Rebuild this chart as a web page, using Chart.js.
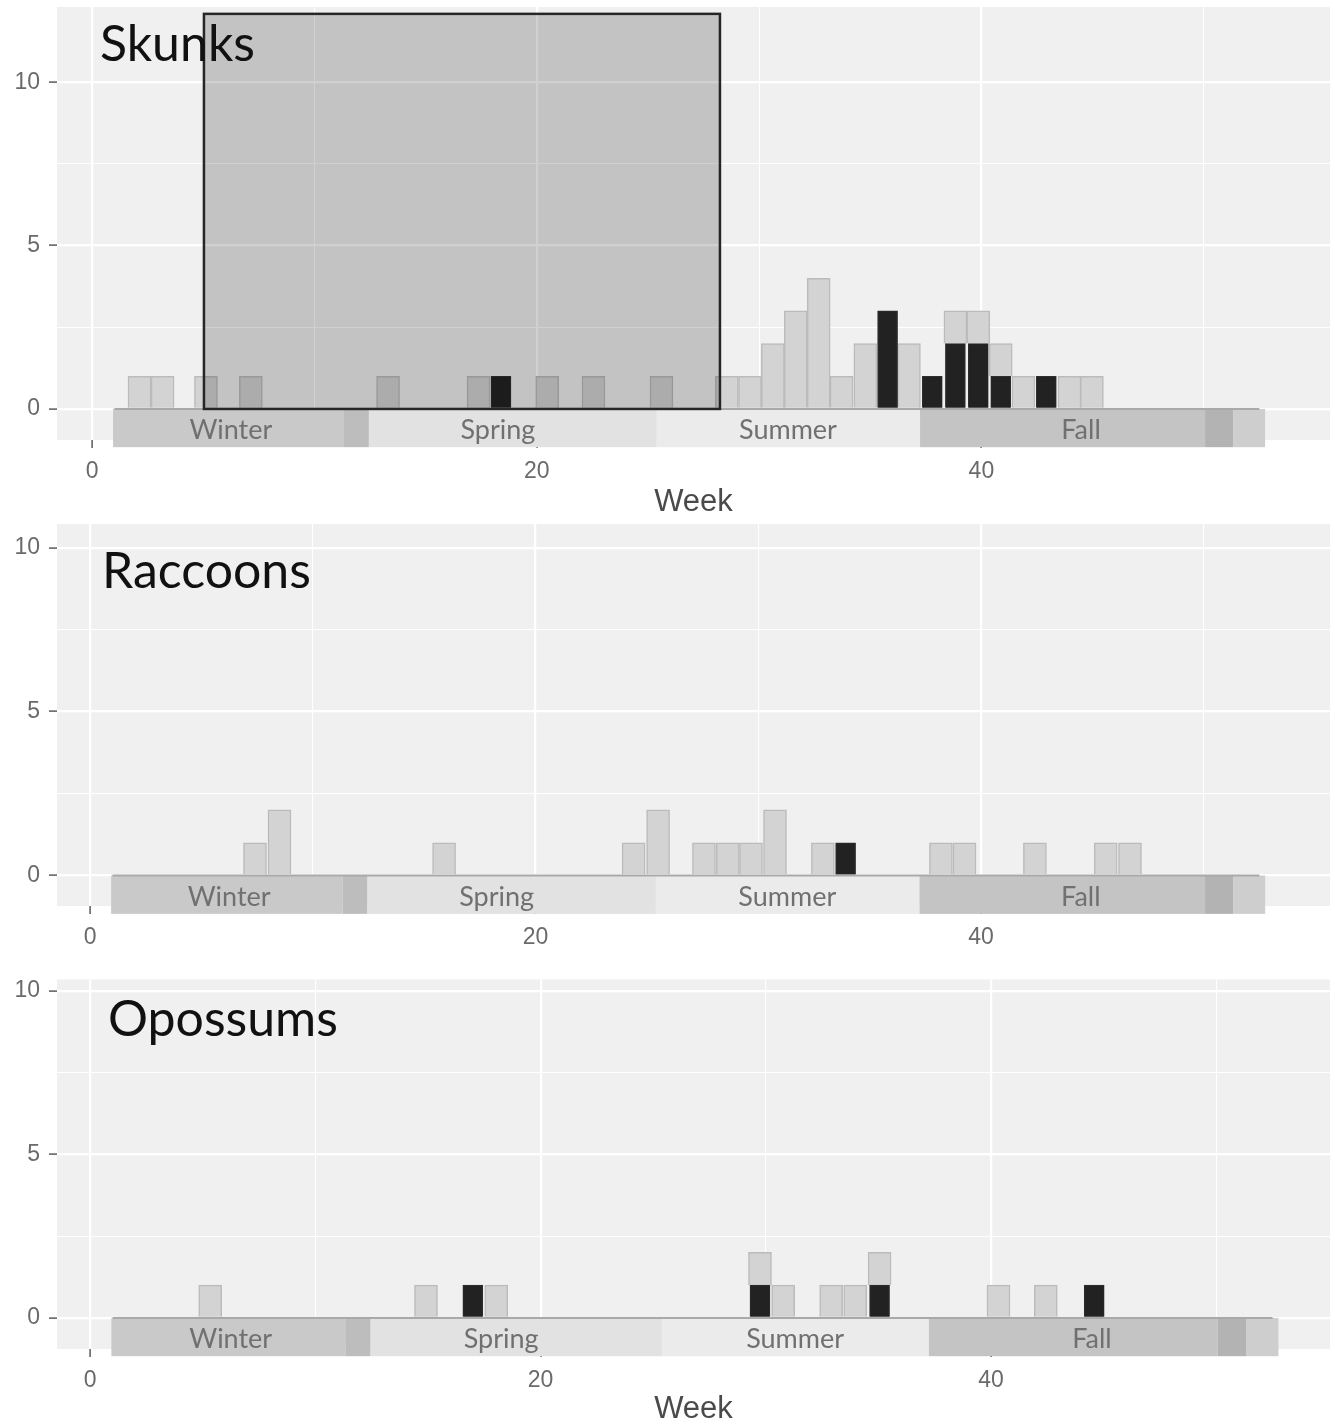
<!DOCTYPE html>
<html>
<head>
<meta charset="utf-8">
<script src="https://cdn.jsdelivr.net/npm/chart.js@4.4.1/dist/chart.umd.min.js"></script>
<style>
  html, body { margin: 0; padding: 0; background: #ffffff; }
  #wrap { position: relative; width: 1335px; height: 1427px; overflow: hidden; background: #ffffff; }
  #wrap canvas { position: absolute; left: 0; }
</style>
</head>
<body>
<div id="wrap">
  <canvas id="c1" width="1335" height="520" style="top:0px;width:1335px;height:520px"></canvas>
  <canvas id="c2" width="1335" height="455" style="top:520px;width:1335px;height:455px"></canvas>
  <canvas id="c3" width="1335" height="452" style="top:975px;width:1335px;height:452px"></canvas>
</div>
<script>
// ---------------- DATA ----------------
// Histogram bin centres (in weeks) and counts: grey = negative, black = positive
const skunkWeeks    = [2.13, 3.17, 5.12, 7.14, 13.31, 17.38, 18.39, 20.47, 22.55, 25.61,
                       28.55, 29.59, 30.62, 31.65, 32.68, 33.71, 34.78, 35.78, 36.74, 37.79,
                       38.83, 39.86, 40.87, 41.89, 42.92, 43.96, 44.97];
const skunkNegative = [1, 1, 1, 1, 1, 1, 0, 1, 1, 1,
                       1, 1, 2, 3, 4, 1, 2, 0, 2, 0,
                       1, 1, 1, 1, 0, 1, 1];
const skunkPositive = [0, 0, 0, 0, 0, 0, 1, 0, 0, 0,
                       0, 0, 0, 0, 0, 0, 0, 3, 0, 1,
                       2, 2, 1, 0, 1, 0, 0];

const raccoonWeeks    = [7.40, 8.50, 15.89, 24.40, 25.50, 27.56, 28.63, 29.67, 30.75, 32.90,
                         33.92, 38.20, 39.26, 42.42, 45.60, 46.69];
const raccoonNegative = [1, 2, 1, 1, 2, 1, 1, 1, 2, 1,
                         0, 1, 1, 1, 1, 1];
const raccoonPositive = [0, 0, 0, 0, 0, 0, 0, 0, 0, 0,
                         1, 0, 0, 0, 0, 0];

const opossumWeeks    = [5.33, 14.91, 16.99, 18.03, 29.74, 30.77, 32.90, 33.97, 35.05, 40.33, 42.43, 44.58];
const opossumNegative = [1, 1, 0, 1, 1, 1, 1, 1, 1, 1, 1, 0];
const opossumPositive = [0, 0, 1, 0, 1, 0, 0, 0, 1, 0, 0, 1];

const panelTitles = ['Skunks', 'Raccoons', 'Opossums'];

// Skunk highlighted window (weeks, counts)
const skunkBoxWeeks = [5.03, 28.24];
const skunkBoxCount = [0, 12.09];

// Season bands (weeks)
const seasonNames     = ['Winter', 'Spring', 'Summer', 'Fall'];
const seasonLabelWeek = [6.24, 18.25, 31.3, 44.48];
const bandFrom        = [0.94, 11.33, 12.45, 25.4, 37.24, 50.06, 51.32];
const bandTo          = [11.33, 12.45, 25.4, 37.24, 50.06, 51.32, 52.76];
const histRange       = [1.0, 52.5];   // extent of the (empty) histogram bins

const xTickLabels = [0, 20, 40];
const yTickLabels = [0, 5, 10];

// ---------------- STYLE ----------------
const BAND_COLORS = ['#C9C9C9', '#BDBDBD', '#E2E2E2', '#EBEBEB', '#C4C4C4', '#B3B3B3', '#CECECE'];
const PANEL_BG = '#F0F0F0';
const BAND_BOTTOM = -1.17;
const SEASON_LABEL_Y = -0.66;

const panelPlugin = {
  id: 'panelDecor',
  beforeDraw(chart) {
    const { ctx, chartArea: a } = chart;
    ctx.save();
    ctx.fillStyle = PANEL_BG;
    ctx.fillRect(a.left, a.top, a.right - a.left, a.bottom - a.top);
    ctx.restore();
  },
  beforeDatasetsDraw(chart) {
    const { ctx } = chart;
    const x = chart.scales.x, y = chart.scales.y;
    const yTop = y.getPixelForValue(0), yBot = y.getPixelForValue(BAND_BOTTOM);
    ctx.save();
    bandFrom.forEach((f, i) => {
      const x0 = x.getPixelForValue(f), x1 = x.getPixelForValue(bandTo[i]);
      ctx.fillStyle = BAND_COLORS[i];
      ctx.fillRect(x0, yTop, x1 - x0, yBot - yTop);
    });
    ctx.font = '27px Lato';
    ctx.fillStyle = '#707070';
    ctx.textAlign = 'center';
    ctx.textBaseline = 'middle';
    seasonNames.forEach((n, i) => {
      ctx.fillText(n, x.getPixelForValue(seasonLabelWeek[i]), y.getPixelForValue(SEASON_LABEL_Y));
    });
    ctx.strokeStyle = '#A9A9A9';
    ctx.lineWidth = 2;
    ctx.beginPath();
    ctx.moveTo(x.getPixelForValue(histRange[0]), yTop);
    ctx.lineTo(x.getPixelForValue(histRange[1]), yTop);
    ctx.stroke();
    ctx.restore();
  },
  afterDatasetsDraw(chart, args, opts) {
    const { ctx, chartArea: a } = chart;
    const x = chart.scales.x, y = chart.scales.y;
    ctx.save();
    if (opts.box) {
      const x0 = x.getPixelForValue(opts.box.weeks[0]), x1 = x.getPixelForValue(opts.box.weeks[1]);
      const y0 = y.getPixelForValue(opts.box.count[0]), y1 = y.getPixelForValue(opts.box.count[1]);
      ctx.globalCompositeOperation = 'multiply';
      ctx.fillStyle = '#D0D0D0';
      ctx.fillRect(x0, y1, x1 - x0, y0 - y1);
      ctx.globalCompositeOperation = 'source-over';
      ctx.strokeStyle = '#262626';
      ctx.lineWidth = 2.5;
      ctx.strokeRect(x0, y1, x1 - x0, y0 - y1);
    }
    ctx.font = '50px Lato';
    ctx.fillStyle = '#111111';
    ctx.textAlign = 'left';
    ctx.textBaseline = 'middle';
    ctx.fillText(opts.title, a.left + opts.titleDx, a.top + opts.titleDy);
    ctx.restore();
  }
};

function makeChart(id, weeks, neg, pos, cfg) {
  const grey = [], black = [];
  weeks.forEach((w, i) => {
    if (pos[i] > 0) black.push({ x: w, y: pos[i] });
    if (neg[i] > 0) grey.push({ x: w, y: neg[i] });
  });
  const tickFont = { family: 'Liberation Sans', size: 23 };
  return new Chart(document.getElementById(id), {
    type: 'bar',
    data: {
      datasets: [
        { label: 'positive', data: black, backgroundColor: '#222222', borderColor: '#2E2E2E',
          borderWidth: 1, barThickness: 20 },
        { label: 'negative', data: grey, backgroundColor: '#D3D3D3', borderColor: '#BBBBBB',
          borderWidth: 1.5, barThickness: 23 }
      ]
    },
    options: {
      responsive: false,
      animation: false,
      devicePixelRatio: 1,
      layout: { padding: { top: cfg.padTop, right: 5, left: 0, bottom: 0 } },
      plugins: {
        legend: { display: false },
        tooltip: { enabled: false },
        panelDecor: { title: cfg.title, titleDx: cfg.titleDx, titleDy: cfg.titleDy, box: cfg.box || null }
      },
      scales: {
        x: {
          type: 'linear', stacked: true, min: cfg.xMin, max: cfg.xMax, offset: false,
          afterFit(s) { s.height = cfg.xAxisH; s.paddingLeft = 0; s.paddingRight = 0; },
          border: { display: false },
          grid: {
            offset: false,
            color: '#FFFFFF',
            lineWidth: c => (c.tick && c.tick.value % 20 === 0) ? 2.2 : 1.1,
            tickColor: c => (c.tick && xTickLabels.includes(c.tick.value)) ? '#5A5A5A' : 'rgba(0,0,0,0)',
            tickLength: 8, tickWidth: 1.5
          },
          ticks: {
            stepSize: 10, includeBounds: false, autoSkip: false, maxRotation: 0, padding: 10,
            color: '#6A6A6A', font: tickFont,
            callback: v => xTickLabels.includes(v) ? String(v) : ''
          },
          title: {
            display: cfg.showTitle, text: 'Week', color: '#4A4A4A',
            font: { family: 'Liberation Sans', size: 31, lineHeight: 1.1 },
            padding: { top: 0, bottom: 0 }
          }
        },
        y: {
          stacked: true, min: cfg.yMin, max: cfg.yMax, offset: false,
          afterFit(s) { s.width = 57; s.paddingTop = 0; s.paddingBottom = 0; },
          border: { display: false },
          grid: {
            offset: false,
            color: '#FFFFFF',
            lineWidth: c => (c.tick && c.tick.value % 5 === 0) ? 2.2 : 1.1,
            tickColor: c => (c.tick && yTickLabels.includes(c.tick.value)) ? '#5A5A5A' : 'rgba(0,0,0,0)',
            tickLength: 8, tickWidth: 1.5
          },
          ticks: {
            stepSize: 2.5, includeBounds: false, autoSkip: false, padding: 9,
            color: '#6A6A6A', font: tickFont,
            callback: v => yTickLabels.includes(v) ? String(v) : ''
          }
        }
      }
    },
    plugins: [panelPlugin]
  });
}

makeChart('c1', skunkWeeks, skunkNegative, skunkPositive, {
  title: panelTitles[0], titleDx: 43, titleDy: 38,
  padTop: 7, xMin: -1.58, xMax: 55.68, yMin: -0.95, yMax: 12.3, xAxisH: 80, showTitle: true,
  box: { weeks: skunkBoxWeeks, count: skunkBoxCount }
});
makeChart('c2', raccoonWeeks, raccoonNegative, raccoonPositive, {
  title: panelTitles[1], titleDx: 45, titleDy: 48,
  padTop: 4, xMin: -1.49, xMax: 55.67, yMin: -0.93, yMax: 10.72, xAxisH: 69, showTitle: false
});
makeChart('c3', opossumWeeks, opossumNegative, opossumPositive, {
  title: panelTitles[2], titleDx: 51, titleDy: 40.5,
  padTop: 4.5, xMin: -1.474, xMax: 55.05, yMin: -0.95, yMax: 10.34, xAxisH: 78, showTitle: true
});
</script>
</body>
</html>
